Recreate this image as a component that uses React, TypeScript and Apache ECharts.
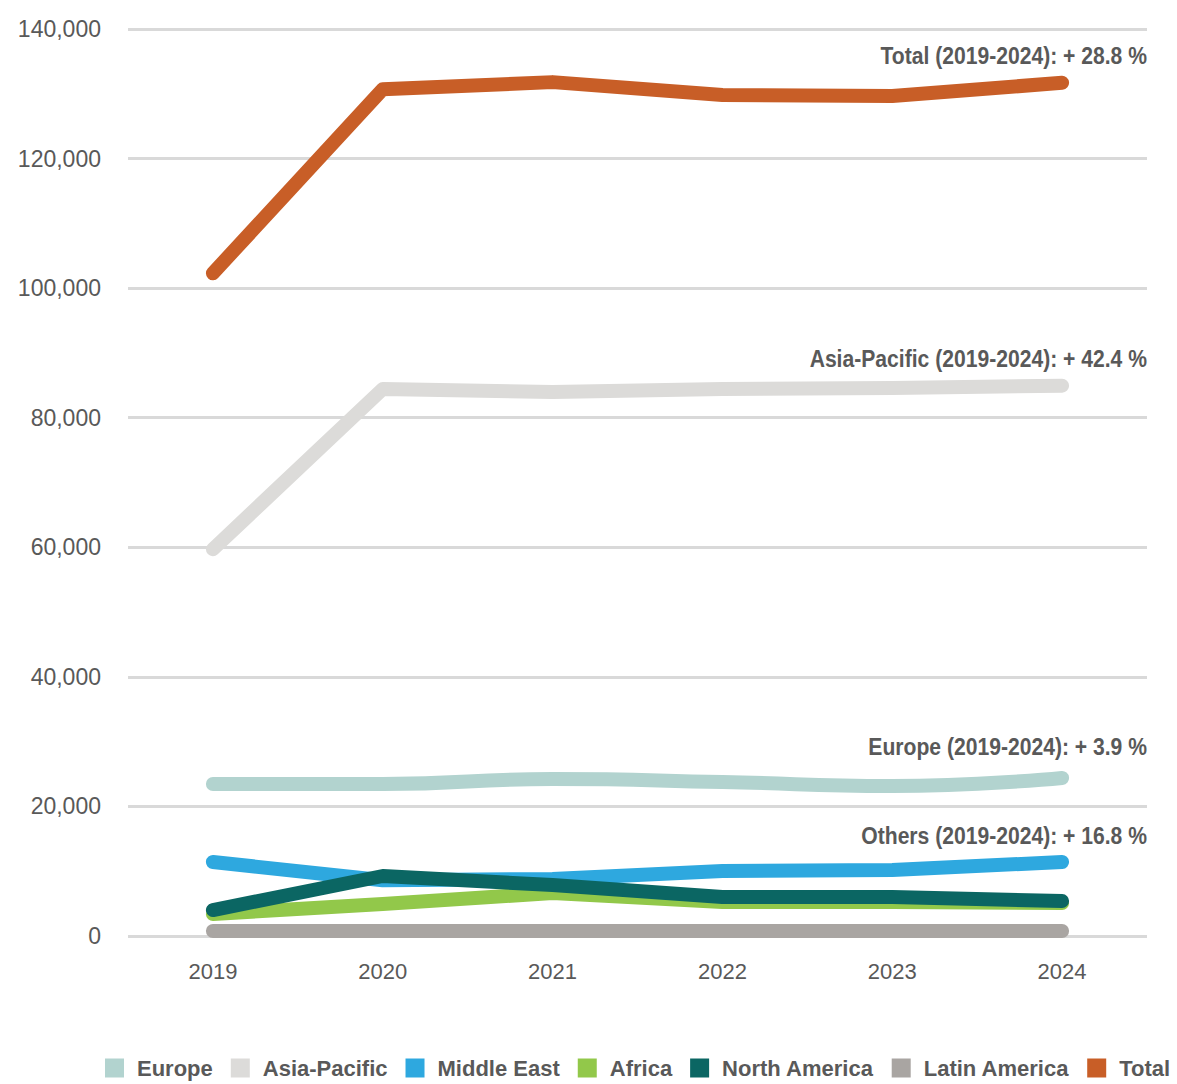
import React, { useEffect, useRef } from "react";
import * as echarts from "echarts";

const years = ["2019", "2020", "2021", "2022", "2023", "2024"];
const europe = [23460, 23460, 24230, 23770, 23150, 24390];
const asiaPacific = [59700, 84430, 83960, 84430, 84580, 84950];
const middleEast = [11420, 8600, 8800, 10030, 10190, 11420];
const africa = [3400, 4940, 6640, 5250, 5250, 5090];
const northAmerica = [4010, 9260, 7870, 6020, 6020, 5400];
const latinAmerica = [770, 770, 770, 770, 770, 770];
const total = [102300, 130700, 131800, 129800, 129650, 131700];
const yTicks = [0, 20000, 40000, 60000, 80000, 100000, 120000, 140000];
const notes = [
  { text: "Total (2019-2024): + 28.8 %", y: 56 },
  { text: "Asia-Pacific (2019-2024): + 42.4 %", y: 359 },
  { text: "Europe (2019-2024): + 3.9 %", y: 747 },
  { text: "Others (2019-2024): + 16.8 %", y: 836 },
];

const FONT = "'Liberation Sans', Arial, sans-serif";

export default function App() {
  const ref = useRef<HTMLDivElement>(null);
  useEffect(() => {
    if (!ref.current) return;
    const chart = echarts.init(ref.current, null, { renderer: "svg" });
    const mk = (name: string, data: number[], color: string, smooth = false) => ({
      name,
      type: "line",
      data,
      smooth,
      symbol: "none",
      lineStyle: { color, width: 14, cap: "round", join: "round" },
      itemStyle: { color },
    });
    chart.setOption({
      animation: false,
      backgroundColor: "#ffffff",
      grid: { left: 128, right: 30, top: 29, bottom: 148 },
      xAxis: {
        type: "category",
        data: years,
        boundaryGap: true,
        axisLine: { show: false },
        axisTick: { show: false },
        axisLabel: { color: "#595959", fontSize: 22, fontFamily: FONT, margin: 24 },
      },
      yAxis: {
        type: "value",
        min: yTicks[0],
        max: yTicks[yTicks.length - 1],
        interval: 20000,
        axisLine: { show: false },
        axisTick: { show: false },
        axisLabel: {
          color: "#595959",
          fontSize: 23,
          fontFamily: FONT,
          margin: 27,
          formatter: (v: number) => v.toLocaleString("en-US"),
        },
        splitLine: { lineStyle: { color: "#d9d9d9", width: 3 } },
      },
      legend: {
        left: 100,
        top: 1052,
        icon: "rect",
        itemWidth: 19,
        itemHeight: 19,
        itemGap: 18,
        textStyle: {
          color: "#595959",
          fontSize: 22,
          fontWeight: "bold",
          fontFamily: FONT,
          padding: [0, 0, 0, 8],
        },
        data: ["Europe", "Asia-Pacific", "Middle East", "Africa", "North America", "Latin America", "Total"],
      },
      series: [
        mk("Europe", europe, "#b2d3cf", true),
        mk("Asia-Pacific", asiaPacific, "#dcdbd9"),
        mk("Middle East", middleEast, "#2ea8df"),
        mk("Africa", africa, "#92c84a"),
        mk("North America", northAmerica, "#0b6663"),
        mk("Latin America", latinAmerica, "#a9a5a2"),
        mk("Total", total, "#c85e27"),
      ],
      graphic: notes.map((n) => ({
        type: "text",
        x: 1147,
        y: n.y,
        scaleX: 0.88,
        style: {
          text: n.text,
          fill: "#595959",
          fontSize: 24,
          fontWeight: "bold",
          fontFamily: FONT,
          textAlign: "right",
          textVerticalAlign: "middle",
        },
      })),
    });
    return () => chart.dispose();
  }, []);
  return (
    <div
      ref={ref}
      style={{ position: "fixed", left: 0, top: 0, width: 1177, height: 1084 }}
    />
  );
}
